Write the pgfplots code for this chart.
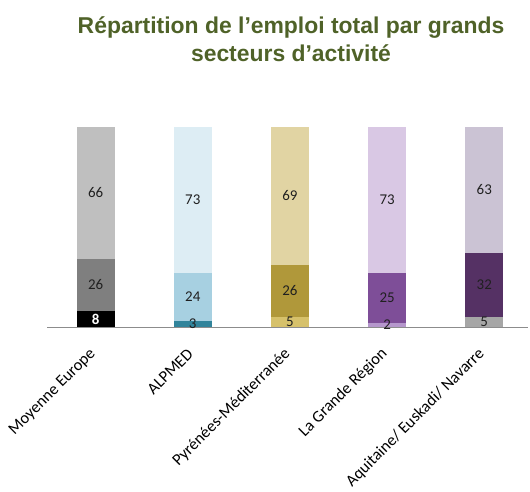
\documentclass[border=0pt]{standalone}
\usepackage{pgfplots}
\pgfplotsset{compat=1.18}
\usepackage{pgfplotstable}
\usepackage{fontspec}
\setmainfont{Carlito}
\newfontfamily\titlefont{Liberation Sans}
\definecolor{titlegreen}{HTML}{4F6228}
\definecolor{meA}{HTML}{000000}\definecolor{meB}{HTML}{7F7F7F}\definecolor{meC}{HTML}{BFBFBF}
\definecolor{alA}{HTML}{31849B}\definecolor{alB}{HTML}{A7D0E1}\definecolor{alC}{HTML}{DDEDF4}
\definecolor{pyA}{HTML}{D6C16B}\definecolor{pyB}{HTML}{B0983A}\definecolor{pyC}{HTML}{E1D4A3}
\definecolor{lgA}{HTML}{B597CC}\definecolor{lgB}{HTML}{7E4E98}\definecolor{lgC}{HTML}{D9C8E4}
\definecolor{aqA}{HTML}{A6A6A6}\definecolor{aqB}{HTML}{553164}\definecolor{aqC}{HTML}{CBC3D4}
\definecolor{lbl}{HTML}{202020}

\pgfplotstableread{
idx a b c
0 8 26 66
1 3 24 73
2 5 26 69
3 2 25 73
4 5 32 63
}\data

\pgfplotsset{
  segbar/.style={ybar, bar width=38bp, bar shift=0pt, draw=none, fill=#1},
  seglbl/.style={only marks, mark=none, point meta=explicit,
    nodes near coords={\pgfmathprintnumber[assume math mode=true]{\pgfplotspointmeta}},
    every node near coord/.append style={anchor=center, font=\fontsize{15}{15}\selectfont, text=lbl, inner sep=0pt}},
}
\newcommand{\bars}[4]{%
  \addplot[segbar=#2, restrict expr to domain={\coordindex}{#1:#1}] table[x=idx, y expr=\thisrow{a}+\thisrow{b}+\thisrow{c}] {\data};
  \addplot[segbar=#3, restrict expr to domain={\coordindex}{#1:#1}] table[x=idx, y expr=\thisrow{a}+\thisrow{b}] {\data};
  \addplot[segbar=#4, restrict expr to domain={\coordindex}{#1:#1}] table[x=idx, y=a] {\data};
}

\begin{document}
\begin{tikzpicture}
\useasboundingbox (0,0) rectangle (530bp,492bp);
\begin{axis}[
  at={(47bp,165bp)}, anchor=south west,
  scale only axis, width=481bp, height=200bp,
  xmin=-0.5, xmax=4.45, ymin=0, ymax=100,
  axis y line=none, axis x line*=bottom,
  x axis line style={draw=black!45, line width=0.8pt, -},
  xtick={0,1,2,3,4},
  xticklabels={Moyenne Europe, ALPMED, Pyrénées-Méditerranée, La Grande Région, Aquitaine/ Euskadi/ Navarre},
  major tick length=0pt,
  xticklabel style={yshift=-22bp, rotate=45, anchor=east, font=\fontsize{16.5}{16.5}\selectfont, text=black},
  /pgf/number format/assume math mode=true,
  clip=false,
]
\bars{0}{meC}{meB}{meA}
\bars{1}{alC}{alB}{alA}
\bars{2}{pyC}{pyB}{pyA}
\bars{3}{lgC}{lgB}{lgA}
\bars{4}{aqC}{aqB}{aqA}
% labels
\addplot[seglbl, restrict expr to domain={\coordindex}{1:4}] table[x=idx, y expr=\thisrow{a}/2, meta=a] {\data};
\addplot[seglbl, restrict expr to domain={\coordindex}{0:0},
  every node near coord/.append style={text=white, font=\bfseries\fontsize{15}{15}\selectfont}] table[x=idx, y expr=\thisrow{a}/2, meta=a] {\data};
\addplot[seglbl] table[x=idx, y expr=\thisrow{a}+\thisrow{b}/2, meta=b] {\data};
\addplot[seglbl] table[x=idx, y expr=\thisrow{a}+\thisrow{b}+\thisrow{c}/2, meta=c] {\data};
\end{axis}
\node[font=\titlefont\bfseries\fontsize{23}{28}\selectfont, text=titlegreen, align=center] at (291bp,453bp)
  {Répartition de l’emploi total par grands\\secteurs d’activité};
\end{tikzpicture}
\end{document}
